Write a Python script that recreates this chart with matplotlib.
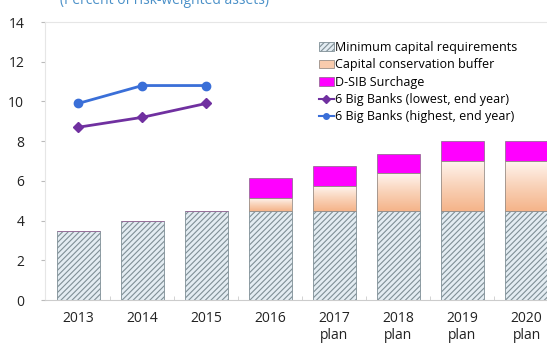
import matplotlib
matplotlib.use("Agg")
import matplotlib.pyplot as plt
import numpy as np
from matplotlib.colors import LinearSegmentedColormap

plt.rcParams['font.family'] = ['Open Sans', 'DejaVu Sans']
plt.rcParams['hatch.color'] = '#4d7484'
plt.rcParams['hatch.linewidth'] = 0.8

categories = ['2013', '2014', '2015', '2016', '2017\nplan', '2018\nplan', '2019\nplan', '2020\nplan']
min_capital = [3.5, 4.0, 4.5, 4.5, 4.5, 4.5, 4.5, 4.5]
conservation = [0, 0, 0, 0.625, 1.25, 1.875, 2.5, 2.5]
dsib = [0, 0, 0, 1.0, 1.0, 1.0, 1.0, 1.0]
line_years = ['2013', '2014', '2015']
lowest = [8.7, 9.2, 9.9]
highest = [9.9, 10.8, 10.8]

fig = plt.figure(figsize=(5.47, 3.5), dpi=100)
ax = fig.add_axes([45/547, 50/350, 1 - 45/547, 278/350])

x = np.arange(len(categories))
w = 0.67
h_min = ax.bar(x, min_capital, w, color='#e3ecf2', edgecolor='#7f8f96', hatch='//////', linewidth=0.6,
               zorder=2)

# conservation buffer with vertical gradient
cmap = LinearSegmentedColormap.from_list('peach', ['#f5b48a', '#f9d2b8', '#fff4ee'])
grad = np.linspace(0, 1, 100).reshape(-1, 1)
bot2 = np.array(min_capital)
for xi, b, h in zip(x, bot2, conservation):
    if h > 0:
        ax.imshow(grad, extent=(xi - w/2, xi + w/2, b, b + h), origin='lower', cmap=cmap,
                  aspect='auto', zorder=2)
        ax.bar(xi, h, w, bottom=b, facecolor='none', edgecolor='#9a8f88', linewidth=0.6, zorder=3)
h_cb = ax.bar([0], [0], w, color='#f8cbad', edgecolor='#9a8f88', linewidth=0.6)
bot3 = bot2 + np.array(conservation)
h_ds = ax.bar(x, dsib, w, bottom=bot3, color='#ff00ff', edgecolor='#9a6a9a', linewidth=0.6, zorder=2)

lx = [categories.index(y) for y in line_years]
h_lo, = ax.plot(lx, lowest, color='#7030a0', marker='D', markersize=5, linewidth=2, zorder=4)
h_hi, = ax.plot(lx, highest, color='#3a6fd8', marker='o', markersize=6, linewidth=2, zorder=4)

ax.set_xlim(-0.52, 7.32)
ax.set_ylim(0, 14)
ax.set_yticks(range(0, 15, 2))
ax.set_xticks(x)
ax.set_xticklabels(categories, fontsize=10, color='#222222')
ax.tick_params(axis='y', labelsize=10, colors='#222222', length=3, color='#bbbbbb', pad=12)
ax.tick_params(axis='x', length=0, pad=8)
ax.set_xticks(x[:-1] + 0.5, minor=True)
ax.tick_params(axis='x', which='minor', length=3, direction='in', color='#cccccc')
for s in ['top', 'left', 'right']:
    ax.spines[s].set_color('#e6e6e6')
ax.spines['bottom'].set_color('#cccccc')
ax.spines['right'].set_visible(False)

leg = ax.legend([h_min, h_cb, h_ds, h_lo, h_hi],
                ['Minimum capital requirements', 'Capital conservation buffer', 'D-SIB Surchage',
                 '6 Big Banks (lowest, end year)', '6 Big Banks (highest, end year)'],
                loc='upper left', bbox_to_anchor=(0.535, 0.95), frameon=False, fontsize=9,
                handlelength=1.2, handletextpad=0.1, labelspacing=0.35, borderaxespad=0)
for hd in leg.legend_handles[3:]:
    hd.set_markersize(4)
    hd.set_linewidth(1.5)
fig.text(0.11, 1.0, '(Percent of risk-weighted assets)', color='#4a90c8', fontsize=10, va='center')

fig.savefig('out.png', dpi=100)
